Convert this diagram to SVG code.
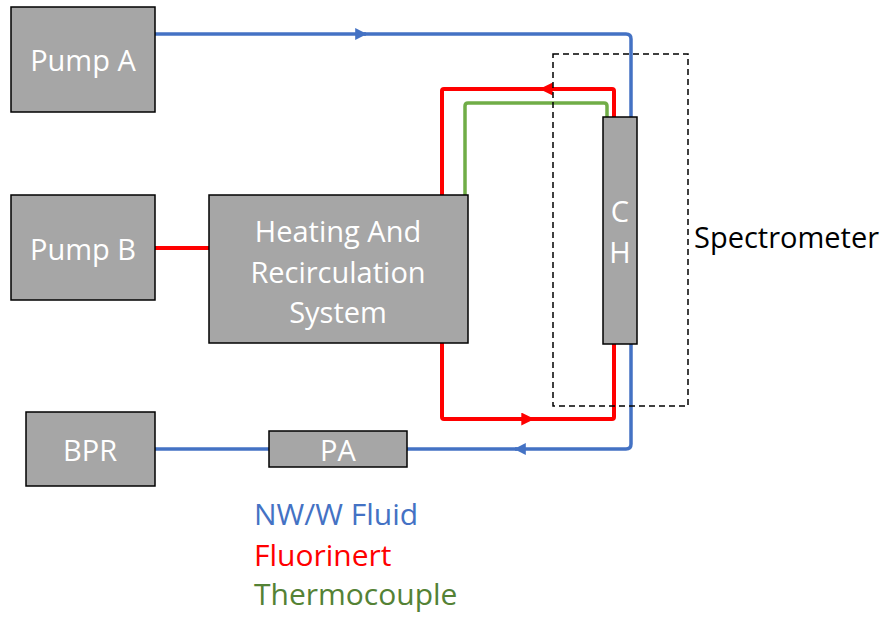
<svg xmlns="http://www.w3.org/2000/svg" width="894" height="618" viewBox="0 0 894 618">
<defs>
<style>
.node{fill:#A6A6A6;stroke:#000;stroke-width:1.5}
.lbl{font-family:"Open Sans","Liberation Sans",sans-serif;fill:#fff;text-anchor:middle;font-size:29px}
.blue{fill:none;stroke:#4472C4;stroke-width:3.5;stroke-linejoin:round}
.red{fill:none;stroke:#FF0000;stroke-width:4;stroke-linejoin:round}
.green{fill:none;stroke:#70AD47;stroke-width:3.5;stroke-linejoin:round}
</style>
<marker id="ab" viewBox="0 0 10 10" refX="9" refY="5" markerWidth="12" markerHeight="12" markerUnits="userSpaceOnUse" orient="auto"><path d="M0,0 L10,5 L0,10 Z" fill="#4472C4"/></marker>
<marker id="ar" viewBox="0 0 10 10" refX="9" refY="5" markerWidth="13" markerHeight="13" markerUnits="userSpaceOnUse" orient="auto"><path d="M0,0 L10,5 L0,10 Z" fill="#FF0000"/></marker>
</defs>
<rect width="894" height="618" fill="#fff"/>
<g id="connectors">
<path class="blue" d="M155,34 L366,34" marker-end="url(#ab)"/>
<path class="blue" d="M364,34 L626,34 Q631,34 631,39 L631,117"/>
<path class="blue" d="M631,344 L631,444 Q631,449 626,449 L515,449" marker-end="url(#ab)"/>
<path class="blue" d="M517,449 L407,449"/>
<path class="blue" d="M155,449 L269,449"/>
<path class="red" d="M155,248 L209,248"/>
<path class="red" d="M614,117 L614,91 Q614,89 612,89 L541,89" marker-end="url(#ar)"/>
<path class="red" d="M543,89 L444,89 Q442,89 442,91 L442,195"/>
<path class="red" d="M442,343 L442,417 Q442,419 444,419 L533,419" marker-end="url(#ar)"/>
<path class="red" d="M531,419 L612,419 Q614,419 614,417 L614,344"/>
<path class="green" d="M465,195 L465,106 Q465,103 468,103 L604,103 Q607,103 607,106 L607,117"/>
</g>
<g id="spectrometer">
<rect x="553" y="54" width="135" height="352" fill="none" stroke="#000" stroke-width="1.5" stroke-dasharray="6,4"/>
<text x="694" y="248" font-family="'Open Sans','Liberation Sans',sans-serif" font-size="29" fill="#000">Spectrometer</text>
</g>
<g id="pumpA"><rect class="node" x="11" y="7" width="144" height="105"/><text class="lbl" x="83" y="71">Pump A</text></g>
<g id="pumpB"><rect class="node" x="11" y="195" width="144" height="105"/><text class="lbl" x="83" y="260">Pump B</text></g>
<g id="hrs"><rect class="node" x="209" y="195" width="259" height="148"/>
<text class="lbl" x="338" y="242">Heating And</text>
<text class="lbl" x="338" y="283">Recirculation</text>
<text class="lbl" x="338" y="323">System</text></g>
<g id="ch"><rect class="node" x="603" y="117" width="34" height="227"/>
<text class="lbl" x="620" y="222">C</text>
<text class="lbl" x="620" y="263">H</text></g>
<g id="bpr"><rect class="node" x="26" y="412" width="129" height="74"/><text class="lbl" x="90" y="461">BPR</text></g>
<g id="pa"><rect class="node" x="269" y="431" width="138" height="36"/><text class="lbl" x="338" y="461">PA</text></g>
<g id="legend" font-family="'Open Sans','Liberation Sans',sans-serif" font-size="30">
<text x="254" y="525" fill="#4472C4">NW/W Fluid</text>
<text x="254" y="566" fill="#FF0000">Fluorinert</text>
<text x="254" y="605" fill="#548235">Thermocouple</text>
</g>
</svg>
